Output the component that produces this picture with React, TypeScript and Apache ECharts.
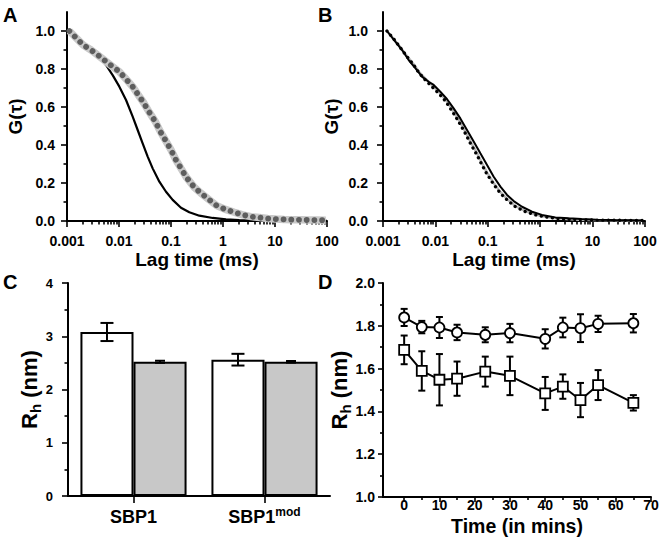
import { useEffect, useRef } from "react";
import * as echarts from "echarts";

const FONT = "Liberation Sans, Arial, Helvetica, sans-serif";

// ---------- Panel A ----------
const tauA_grey = [0.00111, 0.00153, 0.00206, 0.0029, 0.00389, 0.00546, 0.00755, 0.01016, 0.01324, 0.01833, 0.02286, 0.02937, 0.0383, 0.05, 0.0614, 0.0778, 0.1, 0.1247, 0.1556, 0.2, 0.281, 0.378, 0.546, 0.755, 1.11, 1.65, 2.39, 3.45, 4.99, 7.2, 10.5, 15, 22, 32, 46, 66, 95];
const gA_grey = [1.0, 0.961, 0.926, 0.9, 0.874, 0.842, 0.812, 0.786, 0.751, 0.707, 0.668, 0.625, 0.572, 0.523, 0.474, 0.426, 0.374, 0.321, 0.277, 0.228, 0.177, 0.146, 0.111, 0.081, 0.061, 0.046, 0.032, 0.023, 0.018, 0.013, 0.01, 0.008, 0.007, 0.006, 0.005, 0.005, 0.004];
const tauA_black = [0.00111, 0.00153, 0.00206, 0.0029, 0.00419, 0.00562, 0.00755, 0.01016, 0.01365, 0.01833, 0.02286, 0.0285, 0.0356, 0.0444, 0.0597, 0.0802, 0.1077, 0.1556, 0.225, 0.351, 0.633, 1.14, 2.06, 3.72, 7, 15, 40, 100];
const gA_black = [1.0, 0.961, 0.926, 0.9, 0.865, 0.821, 0.768, 0.707, 0.637, 0.549, 0.479, 0.409, 0.339, 0.277, 0.207, 0.154, 0.111, 0.07, 0.046, 0.028, 0.016, 0.009, 0.005, 0.003, 0.002, 0.001, 0.001, 0.001];

// ---------- Panel B ----------
const tauB_solid = [0.00119, 0.00172, 0.00231, 0.00309, 0.00414, 0.00555, 0.00744, 0.00927, 0.0124, 0.0166, 0.0223, 0.0299, 0.0401, 0.0537, 0.0721, 0.0967, 0.1295, 0.174, 0.233, 0.312, 0.45, 0.698, 1.08, 1.95, 3.5, 6.1, 12, 25, 50, 90];
const gB_solid = [1.0, 0.944, 0.9, 0.847, 0.804, 0.76, 0.733, 0.716, 0.681, 0.642, 0.593, 0.54, 0.479, 0.418, 0.356, 0.295, 0.233, 0.181, 0.137, 0.105, 0.075, 0.049, 0.032, 0.019, 0.014, 0.0105, 0.007, 0.005, 0.004, 0.003];
const tauB_dots = [0.00119, 0.0016, 0.00214, 0.00287, 0.00385, 0.00494, 0.00644, 0.0086, 0.01156, 0.0155, 0.0208, 0.0278, 0.0373, 0.0465, 0.0623, 0.0775, 0.0967, 0.1295, 0.174, 0.233, 0.336, 0.521, 0.81, 1.26, 1.95, 3.25, 5.4, 10, 30, 90];
const gB_dots = [1.0, 0.958, 0.912, 0.865, 0.821, 0.777, 0.742, 0.707, 0.672, 0.632, 0.579, 0.523, 0.461, 0.409, 0.347, 0.295, 0.246, 0.193, 0.146, 0.111, 0.075, 0.049, 0.032, 0.021, 0.014, 0.009, 0.007, 0.005, 0.004, 0.003];
const gB_grey = [1.0, 0.958, 0.914, 0.868, 0.825, 0.782, 0.749, 0.715, 0.68, 0.64, 0.588, 0.533, 0.471, 0.419, 0.357, 0.305, 0.255, 0.2, 0.152, 0.116, 0.079, 0.052, 0.034, 0.022, 0.015, 0.01, 0.007, 0.005, 0.004, 0.003];

const logTickValues = [0.001, 0.01, 0.1, 1, 10, 100];
const logTickLabels = ["0.001", "0.01", "0.1", "1", "10", "100"];
const gTickValues = [0, 0.2, 0.4, 0.6, 0.8, 1.0];
const gMinorTicks = [0.1, 0.3, 0.5, 0.7, 0.9];

// ---------- Panel C ----------
const cCategories = ["SBP1", "SBP1mod"];
const cBase = ["SBP1", "SBP1"];
const cSup = ["", "mod"];
const cWhite = [3.08, 2.56];
const cWhiteErr = [0.17, 0.11];
const cGrey = [2.52, 2.52];
const cGreyErr = [0.02, 0.015];

// ---------- Panel D ----------
const dTimes = [0, 5, 10, 15, 23, 30, 40, 45, 50, 55, 65];
const dCircle = [1.839, 1.794, 1.792, 1.769, 1.758, 1.766, 1.739, 1.792, 1.789, 1.809, 1.812];
const dCircleErr = [0.04, 0.029, 0.049, 0.036, 0.035, 0.043, 0.045, 0.046, 0.065, 0.038, 0.043];
const dSquare = [1.6875, 1.589, 1.548, 1.553, 1.586, 1.566, 1.484, 1.516, 1.453, 1.523, 1.44];
const dSquareErr = [0.067, 0.092, 0.12, 0.08, 0.07, 0.09, 0.077, 0.057, 0.08, 0.07, 0.036];
const dXTicks = [0, 10, 20, 30, 40, 50, 60, 70];
const dXMinor = [5, 15, 25, 35, 45, 55, 65];

const pairs = (xs: number[], ys: number[]) => xs.map((x, i) => [x, ys[i]]);
const triples = (xs: number[], ys: number[], es: number[]) => xs.map((x, i) => [x, ys[i], es[i]]);

const txt = (size: number) => ({ color: "#000", fontFamily: FONT, fontWeight: "bold" as const, fontSize: size });
const axLine = { show: true, onZero: false, lineStyle: { color: "#000", width: 2 } };
const noLine = { show: false, onZero: false };
const tick = (len: number, custom?: number[]) => ({
  show: true, length: len, inside: false,
  lineStyle: { color: "#000", width: 1.6 },
  ...(custom ? { customValues: custom } : {}),
});

// positions (in decades) of the 2..9 minor ticks of a log axis
function minorLogTickExponents() {
  const out: number[] = [];
  for (let e = -3; e < 2; e++) {
    for (let m = 2; m <= 9; m++) out.push(e + Math.log10(m));
  }
  return out;
}

function logXAxis(grid: number) {
  return [
    {
      type: "log", logBase: 10, gridIndex: grid, min: 0.001, max: 100, position: "bottom",
      axisLine: axLine, splitLine: { show: false }, minorTick: { show: false },
      axisTick: tick(6, logTickValues),
      axisLabel: {
        ...txt(14), margin: 13, customValues: logTickValues,
        formatter: (v: number) => logTickLabels[Math.round(Math.log10(v)) + 3],
      },
      name: "Lag time (ms)", nameLocation: "middle", nameGap: 29, nameMoveOverlap: false,
      nameTextStyle: txt(19),
    },
    {
      // overlay carrying only the minor ticks, in decade units
      type: "value", gridIndex: grid, min: -3, max: 2, position: "bottom",
      axisLine: noLine, splitLine: { show: false }, axisLabel: { show: false },
      axisTick: tick(3.5, minorLogTickExponents()),
    },
  ];
}

function gYAxis(grid: number, margin: number) {
  return [
    {
      type: "value", gridIndex: grid, min: 0, max: 1.1, position: "left",
      axisLine: axLine, splitLine: { show: false },
      axisTick: tick(6, gTickValues),
      axisLabel: { ...txt(14), margin, customValues: gTickValues, formatter: (v: number) => v.toFixed(1) },
      name: "G(τ)", nameLocation: "middle", nameRotate: 90, nameGap: 42, nameMoveOverlap: false,
      nameTextStyle: txt(19),
    },
    {
      type: "value", gridIndex: grid, min: 0, max: 1.1, position: "left",
      axisLine: noLine, splitLine: { show: false }, axisLabel: { show: false },
      axisTick: tick(3.5, gMinorTicks),
    },
  ];
}

const rhName = "{r|R}{s|h}{r| (nm)}";
const rhStyle = {
  ...txt(22),
  rich: {
    r: { ...txt(22), lineHeight: 28 },
    s: { ...txt(15), lineHeight: 15, verticalAlign: "bottom" },
  },
};

function errorBars(xAxisIndex: number, yAxisIndex: number, data: number[][], capHalf: number, offsetFrac: number, z: number) {
  return {
    type: "custom", xAxisIndex, yAxisIndex, z, silent: true,
    data, encode: { x: 0, y: 1 },
    renderItem: (_p: any, api: any) => {
      const x = api.value(0), y = api.value(1), e = api.value(2);
      const top = api.coord([x, y + e]);
      const bot = api.coord([x, y - e]);
      const band = offsetFrac ? api.size([1, 0])[0] : 0;
      const cx = top[0] + band * offsetFrac;
      const st = { stroke: "#000", lineWidth: 2 };
      return {
        type: "group",
        children: [
          { type: "line", shape: { x1: cx, y1: top[1], x2: cx, y2: bot[1] }, style: st },
          { type: "line", shape: { x1: cx - capHalf, y1: top[1], x2: cx + capHalf, y2: top[1] }, style: st },
          { type: "line", shape: { x1: cx - capHalf, y1: bot[1], x2: cx + capHalf, y2: bot[1] }, style: st },
        ],
      };
    },
  };
}

function buildOption(): any {
  const letter = (t: string, x: number, y: number) => ({
    type: "text", x, y, z: 100,
    style: { text: t, fill: "#000", fontFamily: FONT, fontWeight: "bold", fontSize: 20, verticalAlign: "top" },
  });
  return {
    animation: false,
    backgroundColor: "#fff",
    grid: [
      { left: 67, top: 12, width: 260, height: 209, outerBoundsMode: "none", containLabel: false },
      { left: 383, top: 12, width: 262, height: 209, outerBoundsMode: "none", containLabel: false },
      { left: 68, top: 283, width: 262, height: 213, outerBoundsMode: "none", containLabel: false },
      { left: 383, top: 283, width: 268, height: 214, outerBoundsMode: "none", containLabel: false },
    ],
    xAxis: [
      ...logXAxis(0), // 0,1
      ...logXAxis(1), // 2,3
      {
        // 4: C
        type: "category", gridIndex: 2, data: cCategories, position: "bottom",
        axisLine: axLine, splitLine: { show: false },
        axisTick: { ...tick(7), alignWithLabel: true },
        axisLabel: {
          ...txt(18), margin: 10, interval: 0,
          formatter: (_v: string, i: number) => (cSup[i] ? `{b|${cBase[i]}}{p|${cSup[i]}}` : `{b|${cBase[i]}}`),
          rich: {
            b: { ...txt(18), lineHeight: 22 },
            p: { ...txt(12), lineHeight: 12, verticalAlign: "top" },
          },
        },
      },
      {
        // 5: D main
        type: "value", gridIndex: 3, min: -6, max: 70, position: "bottom",
        axisLine: axLine, splitLine: { show: false },
        axisTick: tick(5, dXTicks),
        axisLabel: { ...txt(14), margin: 1, customValues: dXTicks, formatter: (v: number) => String(Math.round(v)) },
        name: "Time (in mins)", nameLocation: "middle", nameGap: 19, nameMoveOverlap: false,
        nameTextStyle: txt(19.5),
      },
      {
        // 6: D minor
        type: "value", gridIndex: 3, min: -6, max: 70, position: "bottom",
        axisLine: noLine, splitLine: { show: false }, axisLabel: { show: false },
        axisTick: tick(3, dXMinor),
      },
    ],
    yAxis: [
      ...gYAxis(0, 12), // 0,1
      ...gYAxis(1, 15), // 2,3
      {
        // 4: C
        type: "value", gridIndex: 2, min: 0, max: 4, interval: 1, position: "left",
        axisLine: axLine, splitLine: { show: false },
        axisTick: tick(6),
        minorTick: { show: true, splitNumber: 2, length: 3.5, lineStyle: { color: "#000", width: 1.6 } },
        minorSplitLine: { show: false },
        axisLabel: { ...txt(13), margin: 15 },
        name: rhName, nameLocation: "middle", nameRotate: 90, nameGap: 25, nameMoveOverlap: false,
        nameTextStyle: rhStyle,
      },
      {
        // 5: D
        type: "value", gridIndex: 3, min: 1, max: 2, interval: 0.2, position: "left",
        axisLine: axLine, splitLine: { show: false },
        axisTick: tick(5),
        minorTick: { show: true, splitNumber: 2, length: 3, lineStyle: { color: "#000", width: 1.6 } },
        minorSplitLine: { show: false },
        axisLabel: { ...txt(14), margin: 8, formatter: (v: number) => v.toFixed(1) },
        name: rhName, nameLocation: "middle", nameRotate: 90, nameGap: 30, nameMoveOverlap: false,
        nameTextStyle: rhStyle,
      },
    ],
    series: [
      // A
      {
        type: "line", xAxisIndex: 0, yAxisIndex: 0, z: 1, symbol: "none",
        data: pairs(tauA_black, gA_black),
        lineStyle: { color: "#000", width: 2.2 },
      },
      {
        type: "line", xAxisIndex: 0, yAxisIndex: 0, z: 2, symbol: "none",
        data: pairs(tauA_grey, gA_grey),
        lineStyle: { color: "#c9c9c9", width: 7.5 },
      },
      {
        type: "line", xAxisIndex: 0, yAxisIndex: 0, z: 3, symbol: "none",
        data: pairs(tauA_grey, gA_grey),
        lineStyle: { color: "#5e5e5e", width: 5.8, type: [0.01, 7.7], cap: "round" },
      },
      // B
      {
        type: "line", xAxisIndex: 2, yAxisIndex: 2, z: 1, symbol: "none",
        data: pairs(tauB_dots, gB_grey),
        lineStyle: { color: "#b4b4b4", width: 2.5 },
      },
      {
        type: "line", xAxisIndex: 2, yAxisIndex: 2, z: 2, symbol: "none",
        data: pairs(tauB_dots, gB_dots),
        lineStyle: { color: "#000", width: 3.3, type: [0.01, 5.6], cap: "round" },
      },
      {
        type: "line", xAxisIndex: 2, yAxisIndex: 2, z: 3, symbol: "none",
        data: pairs(tauB_solid, gB_solid),
        lineStyle: { color: "#000", width: 2 },
      },
      // C
      {
        type: "bar", xAxisIndex: 4, yAxisIndex: 4, data: cWhite, barWidth: "40.5%", barGap: "0%",
        itemStyle: { color: "#fff", borderColor: "#000", borderWidth: 2 },
      },
      {
        type: "bar", xAxisIndex: 4, yAxisIndex: 4, data: cGrey, barWidth: "40.5%", barGap: "0%",
        itemStyle: { color: "#c8c8c8", borderColor: "#000", borderWidth: 2 },
      },
      errorBars(4, 4, triples([0, 1], cWhite, cWhiteErr), 6.5, -0.2025, 5),
      errorBars(4, 4, triples([0, 1], cGrey, cGreyErr), 5, 0.2025, 5),
      // D
      errorBars(5, 5, triples(dTimes, dCircle, dCircleErr), 3.5, 0, 1),
      errorBars(5, 5, triples(dTimes, dSquare, dSquareErr), 3.5, 0, 1),
      {
        type: "line", xAxisIndex: 5, yAxisIndex: 5, z: 3, data: pairs(dTimes, dCircle),
        symbol: "circle", symbolSize: 10,
        itemStyle: { color: "#fff", borderColor: "#000", borderWidth: 1.8 },
        lineStyle: { color: "#000", width: 2 },
      },
      {
        type: "line", xAxisIndex: 5, yAxisIndex: 5, z: 3, data: pairs(dTimes, dSquare),
        symbol: "rect", symbolSize: 10,
        itemStyle: { color: "#fff", borderColor: "#000", borderWidth: 1.8 },
        lineStyle: { color: "#000", width: 2 },
      },
    ],
    graphic: [letter("A", 3, 5), letter("B", 318, 5), letter("C", 3, 272), letter("D", 318, 272)],
  };
}

export default function App() {
  const ref = useRef<HTMLDivElement>(null);
  useEffect(() => {
    if (!ref.current) return;
    const chart = echarts.init(ref.current, null, { renderer: "svg" });
    chart.setOption(buildOption());
    return () => chart.dispose();
  }, []);
  return (
    <div
      ref={ref}
      style={{ position: "fixed", left: 0, top: 0, width: 660, height: 544, background: "#fff" }}
    />
  );
}
